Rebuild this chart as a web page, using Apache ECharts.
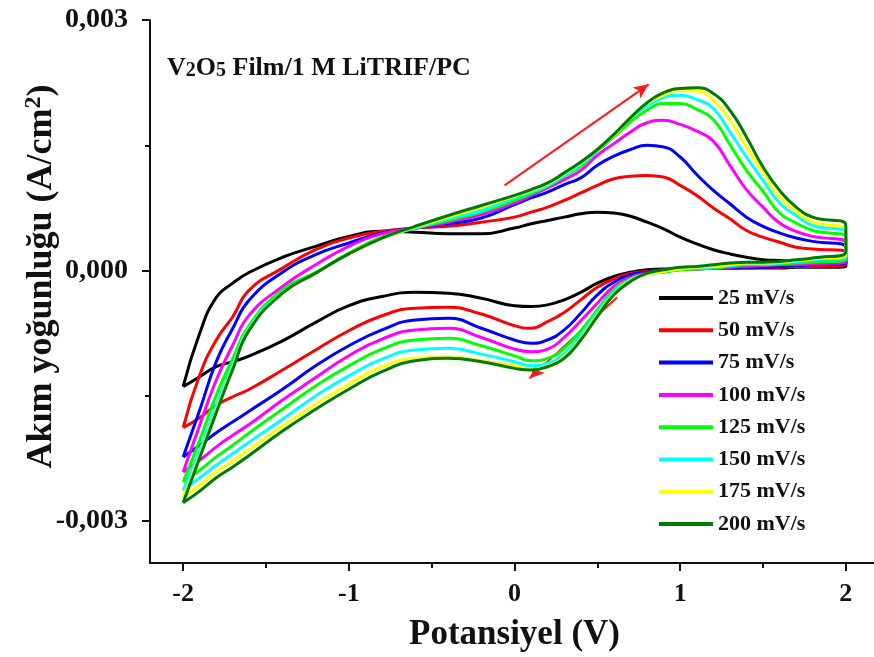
<!DOCTYPE html>
<html>
<head>
<meta charset="utf-8">
<script src="https://cdn.jsdelivr.net/npm/echarts@6/dist/echarts.min.js"></script>
<style>
html,body{margin:0;padding:0;background:#fff;}
#chart{width:874px;height:657px;}
</style>
</head>
<body>
<div id="chart"></div>
<script>
// Potential (V) grid used for both sweep directions
const potential = [-2,-1.9,-1.8,-1.7,-1.6,-1.4,-1.2,-1.0,-0.8,-0.6,-0.4,-0.2,0,0.1,0.2,0.3,0.4,0.5,0.6,0.7,0.8,0.9,1.0,1.1,1.2,1.3,1.4,1.5,1.6,1.7,1.8,2.0];

// Current density in mA/cm^2 (axis labels show A/cm^2)
const scanRates = ['25 mV/s','50 mV/s','75 mV/s','100 mV/s','125 mV/s','150 mV/s','175 mV/s','200 mV/s'];
const colors = ['#000000','#ff0000','#0000ff','#ff00ff','#00ff00','#00ffff','#ffff00','#007a00'];

// anodic (forward) sweep values
const up25  = [-1.39,-0.75,-0.32,-0.15,-0.02,0.16,0.29,0.41,0.47,0.46,0.44,0.44,0.51,0.56,0.60,0.64,0.68,0.70,0.69,0.65,0.58,0.50,0.40,0.32,0.25,0.20,0.16,0.13,0.12,0.11,0.11,0.11];
const up50  = [-1.88,-1.25,-0.83,-0.55,-0.23,0.03,0.25,0.39,0.47,0.51,0.53,0.58,0.64,0.70,0.76,0.84,0.93,1.02,1.10,1.13,1.14,1.12,1.02,0.90,0.75,0.62,0.48,0.40,0.34,0.28,0.26,0.22];
const up75  = [-2.23,-1.67,-1.09,-0.69,-0.35,-0.02,0.19,0.33,0.45,0.51,0.56,0.63,0.79,0.87,0.94,1.03,1.11,1.26,1.37,1.45,1.50,1.48,1.36,1.15,0.96,0.80,0.64,0.53,0.45,0.39,0.35,0.28];
const up100 = [-2.41,-1.85,-1.31,-0.89,-0.53,-0.19,0.07,0.29,0.44,0.51,0.58,0.67,0.81,0.90,0.99,1.09,1.20,1.38,1.52,1.66,1.77,1.80,1.75,1.67,1.55,1.26,0.97,0.76,0.57,0.47,0.41,0.33];
const up125 = [-2.53,-2.03,-1.49,-1.05,-0.65,-0.23,-0.02,0.21,0.40,0.51,0.60,0.70,0.84,0.92,1.01,1.13,1.25,1.43,1.60,1.78,1.92,2.00,2.00,1.93,1.81,1.51,1.20,0.95,0.69,0.57,0.48,0.39];
const up150 = [-2.63,-2.15,-1.61,-1.12,-0.68,-0.26,-0.03,0.20,0.39,0.51,0.62,0.72,0.87,0.94,1.02,1.14,1.27,1.44,1.62,1.83,1.97,2.07,2.10,2.05,1.94,1.66,1.36,1.08,0.81,0.66,0.54,0.45];
const up175 = [-2.71,-2.21,-1.67,-1.16,-0.70,-0.27,-0.03,0.20,0.39,0.52,0.64,0.76,0.89,0.96,1.04,1.16,1.29,1.45,1.62,1.83,2.00,2.10,2.16,2.15,2.04,1.80,1.48,1.18,0.88,0.71,0.58,0.48];
const up200 = [-2.78,-2.24,-1.70,-1.18,-0.71,-0.27,-0.03,0.20,0.39,0.53,0.66,0.78,0.90,0.97,1.05,1.17,1.30,1.45,1.63,1.83,2.01,2.13,2.18,2.19,2.12,1.92,1.60,1.24,0.96,0.76,0.64,0.54];

// cathodic (reverse) sweep values, listed in the same potential order
const dn25  = [-1.39,-1.27,-1.15,-1.09,-1.02,-0.84,-0.62,-0.42,-0.31,-0.26,-0.27,-0.33,-0.42,-0.43,-0.41,-0.35,-0.26,-0.15,-0.07,-0.02,0.01,0.02,0.02,0.03,0.03,0.03,0.03,0.03,0.03,0.04,0.04,0.05];
const dn50  = [-1.88,-1.76,-1.61,-1.51,-1.42,-1.19,-0.95,-0.72,-0.54,-0.45,-0.44,-0.52,-0.66,-0.69,-0.61,-0.50,-0.35,-0.20,-0.10,-0.03,-0.01,0.01,0.02,0.02,0.03,0.03,0.03,0.04,0.04,0.05,0.05,0.08];
const dn75  = [-2.23,-2.09,-1.94,-1.81,-1.68,-1.42,-1.14,-0.90,-0.71,-0.59,-0.57,-0.69,-0.83,-0.87,-0.83,-0.71,-0.51,-0.29,-0.14,-0.05,-0.02,0.01,0.02,0.02,0.03,0.03,0.04,0.04,0.05,0.06,0.07,0.09];
const dn100 = [-2.41,-2.27,-2.11,-1.97,-1.84,-1.55,-1.28,-1.02,-0.82,-0.71,-0.69,-0.80,-0.94,-0.97,-0.94,-0.80,-0.60,-0.39,-0.19,-0.08,-0.03,-0.01,0.01,0.02,0.03,0.04,0.05,0.06,0.07,0.07,0.08,0.11];
const dn125 = [-2.53,-2.39,-2.23,-2.09,-1.94,-1.66,-1.38,-1.14,-0.94,-0.83,-0.81,-0.90,-1.02,-1.08,-1.05,-0.93,-0.72,-0.47,-0.23,-0.10,-0.04,-0.02,0.01,0.02,0.03,0.05,0.07,0.07,0.08,0.09,0.10,0.14];
const dn150 = [-2.63,-2.48,-2.33,-2.19,-2.05,-1.78,-1.50,-1.26,-1.06,-0.95,-0.93,-1.00,-1.09,-1.14,-1.11,-0.99,-0.77,-0.50,-0.26,-0.11,-0.04,-0.01,0.02,0.03,0.04,0.06,0.08,0.08,0.09,0.11,0.13,0.16];
const dn175 = [-2.71,-2.57,-2.41,-2.28,-2.14,-1.86,-1.60,-1.36,-1.15,-1.05,-1.03,-1.08,-1.14,-1.18,-1.14,-1.03,-0.81,-0.53,-0.28,-0.12,-0.04,-0.01,0.02,0.04,0.05,0.07,0.09,0.09,0.10,0.12,0.14,0.19];
const dn200 = [-2.78,-2.64,-2.48,-2.35,-2.21,-1.92,-1.66,-1.42,-1.21,-1.08,-1.05,-1.09,-1.17,-1.19,-1.15,-1.05,-0.83,-0.55,-0.29,-0.13,-0.03,0.01,0.04,0.05,0.07,0.09,0.10,0.10,0.11,0.13,0.15,0.23];

// axis ticks
const xMajorTicks = [-2,-1,0,1,2];
const xMinorTicks = [-1.5,-0.5,0.5,1.5];
const yMajorTicks = [-3,0,3];
const yMinorTicks = [-1.5,1.5];

// sweep direction arrows: [startV, startI, endV, endI]
const arrowAnodic = [-0.06, 1.02, 0.81, 2.23];
const arrowCathodic = [0.62, -0.32, 0.09, -1.29];

const ups = [up25,up50,up75,up100,up125,up150,up175,up200];
const dns = [dn25,dn50,dn75,dn100,dn125,dn150,dn175,dn200];

const FONT = '"Liberation Serif", "Times New Roman", serif';
const INK = '#111';

const series = scanRates.map((name, k) => {
  const fwd = potential.map((v, i) => [v, ups[k][i]]);
  const rev = potential.map((v, i) => [v, dns[k][i]]).reverse();
  return {
    name: name,
    type: 'line',
    data: fwd.concat(rev),
    symbol: 'none',
    smooth: 0.5,
    color: colors[k],
    lineStyle: { width: 3, color: colors[k] },
    z: 2 + k,
    animation: false
  };
});

series.push({
  type: 'line',
  data: [],
  symbol: 'none',
  silent: true,
  animation: false,
  markLine: {
    silent: true,
    symbol: ['none', 'arrow'],
    symbolSize: [10, 15],
    label: { show: false },
    lineStyle: { color: '#ff1a1a', width: 2, type: 'solid' },
    data: [
      [{ coord: [arrowAnodic[0], arrowAnodic[1]] }, { coord: [arrowAnodic[2], arrowAnodic[3]] }],
      [{ coord: [arrowCathodic[0], arrowCathodic[1]] }, { coord: [arrowCathodic[2], arrowCathodic[3]] }]
    ]
  }
});

const yFmt = v => (v / 1000).toFixed(3).replace('.', ',');

function tickAxis(min, max, values, len, pos) {
  return {
    type: 'value', min: min, max: max, position: pos,
    axisLine: { show: false, onZero: false },
    axisTick: { show: true, inside: false, length: len, lineStyle: { color: INK, width: 2 }, customValues: values },
    axisLabel: { show: false },
    splitLine: { show: false }
  };
}

const option = {
  backgroundColor: '#ffffff',
  animation: false,
  grid: { left: 150, top: 20, right: -5, bottom: 94, outerBoundsMode: 'none', containLabel: false },
  legend: {
    data: scanRates,
    orient: 'vertical',
    left: 654,
    top: 282,
    icon: 'rect',
    itemWidth: 54,
    itemHeight: 4,
    itemGap: 10.3,
    textStyle: { fontFamily: FONT, fontWeight: 'bold', fontSize: 22, lineHeight: 22, color: INK }
  },
  xAxis: [{
    type: 'value',
    min: -2.2,
    max: 2.2,
    position: 'bottom',
    axisLine: { show: true, onZero: false, lineStyle: { color: INK, width: 2 } },
    axisTick: { show: false },
    axisLabel: { customValues: xMajorTicks, margin: 18, fontFamily: FONT, fontWeight: 'bold', fontSize: 26, color: INK },
    splitLine: { show: false },
    name: 'Potansiyel (V)',
    nameLocation: 'middle',
    nameMoveOverlap: false,
    nameGap: 54,
    nameTextStyle: { fontFamily: FONT, fontWeight: 'bold', fontSize: 35, color: INK }
  },
  tickAxis(-2.2, 2.2, xMajorTicks, 8, 'bottom'),
  tickAxis(-2.2, 2.2, xMinorTicks, 5, 'bottom')],
  yAxis: [{
    type: 'value',
    min: -3.5,
    max: 3,
    position: 'left',
    axisLine: { show: true, onZero: false, lineStyle: { color: INK, width: 2 } },
    axisTick: { show: false },
    axisLabel: { customValues: yMajorTicks, formatter: yFmt, margin: 22, fontFamily: FONT, fontWeight: 'bold', fontSize: 28, color: INK },
    splitLine: { show: false },
    name: 'Akım yoğunluğu (A/cm{sup|2})',
    nameLocation: 'middle',
    nameMoveOverlap: false,
    nameGap: 88,
    nameRotate: 90,
    nameTextStyle: {
      fontFamily: FONT, fontWeight: 'bold', fontSize: 36, color: INK,
      padding: [0, 0, 0, 30],
      rich: { sup: { fontFamily: FONT, fontWeight: 'bold', fontSize: 24, color: INK, verticalAlign: 'top', padding: [0, 0, 16, 0] } }
    }
  },
  tickAxis(-3.5, 3, yMajorTicks, 8, 'left'),
  tickAxis(-3.5, 3, yMinorTicks, 5, 'left')],
  graphic: [{
    type: 'text',
    left: 167,
    top: 55,
    z: 20,
    style: {
      text: '{m|V}{s|2}{m|O}{s|5}{m| Film/1 M LiTRIF/PC}',
      rich: {
        m: { fontFamily: FONT, fontWeight: 'bold', fontSize: 26, fill: INK, verticalAlign: 'bottom' },
        s: { fontFamily: FONT, fontWeight: 'bold', fontSize: 20, fill: INK, padding: [9, 0, 0, 0], verticalAlign: 'bottom' }
      }
    }
  }],
  series: series
};

const chart = echarts.init(document.getElementById('chart'), null, { renderer: 'canvas' });
chart.setOption(option);
</script>
</body>
</html>
